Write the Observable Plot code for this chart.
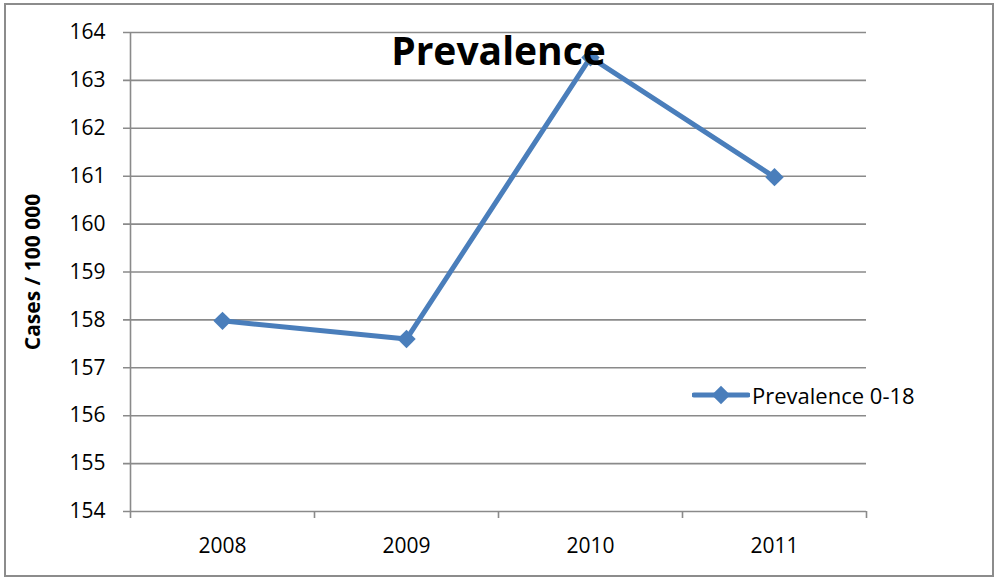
<!DOCTYPE html>
<html>
<head>
<meta charset="utf-8">
<script src="https://cdn.jsdelivr.net/npm/d3@7"></script>
<script src="https://cdn.jsdelivr.net/npm/@observablehq/plot@0.6"></script>
<style>
  html, body { margin: 0; padding: 0; background: #fff; }
  #wrap { position: relative; width: 997px; height: 577px; overflow: hidden; }
  #border { position: absolute; left: 4px; top: 3px; width: 986px; height: 570px; border: 2px solid #8c8c8c; pointer-events: none; }
  #legend { position: absolute; left: 692px; top: 380px; display: flex; align-items: center;
            font-family: "Open Sans", "Noto Sans", sans-serif; font-size: 22px; color: #000; }
</style>
</head>
<body>
<div id="wrap"><div id="border"></div></div>
<script>
// Prevalence of cases per 100 000, age 0-18
const years = ["2008", "2009", "2010", "2011"];
const prevalence = [157.98, 157.6, 163.48, 160.98];
const yTicks = [154, 155, 156, 157, 158, 159, 160, 161, 162, 163, 164];
const seriesName = "Prevalence 0-18";
const title = "Prevalence";
const yLabel = "Cases / 100 000";

const lineColor = "#4a7ebb";
const gridColor = "#8a8a8a";
const font = "'Open Sans', 'Noto Sans', sans-serif";

const data = years.map((year, i) => ({i, year, value: prevalence[i]}));
// category boundaries, where the x-axis tick marks sit
const bounds = d3.range(years.length + 1).map(i => i - 0.5);

const chart = Plot.plot({
  width: 997,
  height: 577,
  marginLeft: 130,
  marginRight: 131,
  marginTop: 32,
  marginBottom: 66,
  style: {fontFamily: font, fontSize: "21px", color: "#000", background: "transparent"},
  x: {type: "linear", domain: [-0.5, years.length - 0.5]},
  y: {domain: [154, 164]},
  marks: [
    // horizontal gridlines, extended left to form the y tick marks
    Plot.ruleY(yTicks, {stroke: gridColor, strokeWidth: 1.6, x1: -0.5 - 7 / 184, x2: years.length - 0.5}),
    // y axis line
    Plot.ruleX([-0.5], {y1: 154, y2: 164, stroke: gridColor, strokeWidth: 1.6}),
    Plot.axisY({ticks: yTicks, tickSize: 0, tickPadding: 25, fontSize: 21, label: null}),
    // x tick marks at category boundaries
    Plot.axisX({ticks: bounds, tickSize: 7, tickFormat: () => "", stroke: gridColor, strokeWidth: 1.6, label: null}),
    Plot.axisX({ticks: d3.range(years.length), tickSize: 0, tickPadding: 27, tickFormat: i => years[i], fontSize: 21, label: null}),
    Plot.text([yLabel], {frameAnchor: "left", textAnchor: "middle", dx: -97, rotate: -90, fontWeight: "bold", fontSize: 21}),
    Plot.line(data, {x: "i", y: "value", stroke: lineColor, strokeWidth: 5, strokeLinejoin: "round", strokeLinecap: "round"}),
    Plot.dot(data, {x: "i", y: "value", symbol: "diamond2", r: 8.3, fill: lineColor, stroke: null}),
    Plot.text([title], {frameAnchor: "top", lineAnchor: "middle", dy: 20, fontWeight: "bold", fontSize: 39})
  ]
});

document.getElementById("wrap").prepend(chart);

// legend entry drawn beside the plot area
const legend = document.createElement("div");
legend.id = "legend";
const sw = d3.create("svg").attr("width", 58).attr("height", 30);
sw.append("line").attr("x1", 2).attr("x2", 56).attr("y1", 15).attr("y2", 15)
  .attr("stroke", lineColor).attr("stroke-width", 5).attr("stroke-linecap", "round");
sw.append("path").attr("d", d3.symbol(d3.symbolDiamond2, Math.PI * 8.3 * 8.3)())
  .attr("transform", "translate(29,15)").attr("fill", lineColor);
legend.append(sw.node());
const lt = document.createElement("span");
lt.textContent = seriesName;
lt.style.marginLeft = "2px";
legend.append(lt);
document.getElementById("wrap").append(legend);
</script>
</body>
</html>
